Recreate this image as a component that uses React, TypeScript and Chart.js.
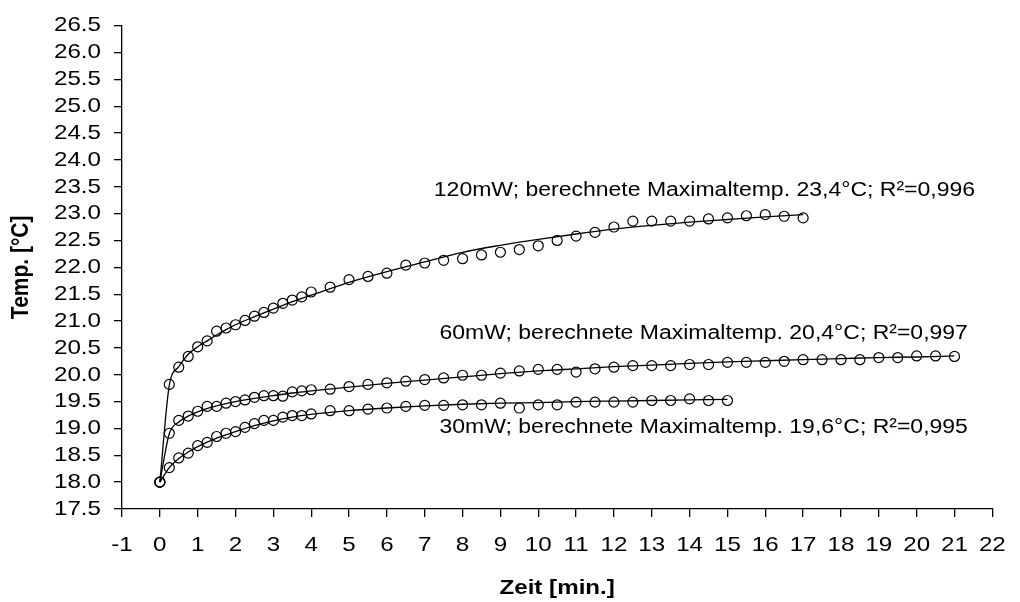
import React, { useEffect, useRef } from 'react';
import { Chart, registerables } from 'chart.js';

Chart.register(...registerables);

// ---- data ----
const times120 = [0, 0.25, 0.5, 0.75, 1, 1.25, 1.5, 1.75, 2, 2.25, 2.5, 2.75, 3, 3.25, 3.5, 3.75, 4, 4.5, 5, 5.5, 6, 6.5, 7, 7.5, 8, 8.5, 9, 9.5, 10, 10.5, 11, 11.5, 12, 12.5, 13, 13.5, 14, 14.5, 15, 15.5, 16, 16.5, 17];
const temp120 = [18.0, 19.82, 20.14, 20.34, 20.52, 20.63, 20.81, 20.87, 20.93, 21.01, 21.09, 21.16, 21.24, 21.33, 21.39, 21.45, 21.54, 21.63, 21.77, 21.83, 21.89, 22.04, 22.08, 22.13, 22.16, 22.23, 22.28, 22.33, 22.40, 22.50, 22.58, 22.65, 22.75, 22.86, 22.86, 22.86, 22.86, 22.90, 22.92, 22.96, 22.98, 22.95, 22.92];

const times60 = [0, 0.25, 0.5, 0.75, 1, 1.25, 1.5, 1.75, 2, 2.25, 2.5, 2.75, 3, 3.25, 3.5, 3.75, 4, 4.5, 5, 5.5, 6, 6.5, 7, 7.5, 8, 8.5, 9, 9.5, 10, 10.5, 11, 11.5, 12, 12.5, 13, 13.5, 14, 14.5, 15, 15.5, 16, 16.5, 17, 17.5, 18, 18.5, 19, 19.5, 20, 20.5, 21];
const temp60 = [18.0, 18.91, 19.15, 19.23, 19.32, 19.41, 19.41, 19.47, 19.50, 19.53, 19.58, 19.61, 19.61, 19.60, 19.68, 19.70, 19.72, 19.73, 19.78, 19.82, 19.85, 19.88, 19.91, 19.94, 19.99, 19.99, 20.03, 20.07, 20.10, 20.10, 20.05, 20.11, 20.14, 20.17, 20.17, 20.17, 20.19, 20.19, 20.23, 20.23, 20.23, 20.25, 20.28, 20.28, 20.28, 20.28, 20.32, 20.32, 20.35, 20.35, 20.34];

const times30 = [0, 0.25, 0.5, 0.75, 1, 1.25, 1.5, 1.75, 2, 2.25, 2.5, 2.75, 3, 3.25, 3.5, 3.75, 4, 4.5, 5, 5.5, 6, 6.5, 7, 7.5, 8, 8.5, 9, 9.5, 10, 10.5, 11, 11.5, 12, 12.5, 13, 13.5, 14, 14.5, 15];
const temp30 = [18.0, 18.27, 18.45, 18.54, 18.68, 18.74, 18.85, 18.91, 18.94, 19.02, 19.09, 19.15, 19.15, 19.21, 19.24, 19.24, 19.27, 19.33, 19.33, 19.36, 19.38, 19.41, 19.43, 19.43, 19.44, 19.44, 19.47, 19.38, 19.44, 19.44, 19.49, 19.49, 19.49, 19.49, 19.52, 19.52, 19.55, 19.52, 19.52];

// fitted curves
const fitTimes120 = [0, 0.25, 0.5, 0.75, 1, 1.25, 1.5, 1.75, 2, 2.5, 3, 3.5, 4, 5, 6, 7, 8, 9, 10, 11, 12, 13, 14, 15, 16, 17];
const fit120 = [18.0, 19.8, 20.15, 20.38, 20.52, 20.63, 20.74, 20.84, 20.93, 21.08, 21.22, 21.36, 21.48, 21.72, 21.92, 22.1, 22.28, 22.41, 22.52, 22.62, 22.71, 22.78, 22.84, 22.89, 22.94, 22.98];

const fitTimes60 = [0, 0.25, 0.5, 0.75, 1, 1.5, 2, 2.5, 3, 3.5, 4, 5, 6, 7, 8, 9, 10, 11, 12, 13, 14, 15, 16, 17, 18, 19, 20, 21];
const fit60 = [18.0, 18.9, 19.12, 19.23, 19.31, 19.42, 19.5, 19.56, 19.61, 19.66, 19.7, 19.77, 19.84, 19.9, 19.96, 20.02, 20.07, 20.11, 20.15, 20.18, 20.21, 20.24, 20.26, 20.28, 20.3, 20.32, 20.33, 20.35];

const fitTimes30 = [0, 0.25, 0.5, 0.75, 1, 1.5, 2, 2.5, 3, 3.5, 4, 5, 6, 7, 8, 9, 10, 11, 12, 13, 14, 15];
const fit30 = [18.0, 18.27, 18.44, 18.56, 18.66, 18.82, 18.94, 19.05, 19.14, 19.21, 19.26, 19.33, 19.38, 19.42, 19.45, 19.47, 19.48, 19.5, 19.51, 19.52, 19.53, 19.54];

const annotationTexts = [
  '120mW; berechnete Maximaltemp. 23,4°C; R²=0,996',
  '60mW; berechnete Maximaltemp. 20,4°C; R²=0,997',
  '30mW; berechnete Maximaltemp. 19,6°C; R²=0,995',
];
// anchor of each annotation in data units [time, temp] (left / baseline)
const annotationAnchors: [number, number][] = [
  [7.24, 23.33],
  [7.39, 20.67],
  [7.39, 18.92],
];

const xMin = -1;
const xMax = 22;
const yMin = 17.5;
const yMax = 26.5;
const xTitle = 'Zeit [min.]';
const yTitle = 'Temp. [°C]';

const FONT = "'Liberation Sans', Arial, Helvetica, sans-serif";
const TEXT_STRETCH = 1.15;

const toPoints = (xs: number[], ys: number[]) => xs.map((x, i) => ({ x, y: ys[i] }));

function patchFillText(ctx: any) {
  if (ctx.__stretched) return;
  const orig = CanvasRenderingContext2D.prototype.fillText;
  ctx.__stretched = true;
  ctx.fillText = function (text: string, x: number, y: number, maxWidth?: number) {
    const m = this.getTransform();
    const p = m.transformPoint(new DOMPoint(x, y));
    this.save();
    this.setTransform(new DOMMatrix().translate(p.x, p.y).scale(TEXT_STRETCH, 1).translate(-p.x, -p.y).multiply(m));
    if (maxWidth === undefined) orig.call(this, text, x, y);
    else orig.call(this, text, x, y, maxWidth);
    this.restore();
  };
}

const annotationPlugin = {
  id: 'curveLabels',
  afterDatasetsDraw(chart: any) {
    const { ctx, scales } = chart;
    ctx.save();
    ctx.font = `20px ${FONT}`;
    ctx.fillStyle = '#000';
    ctx.textAlign = 'left';
    ctx.textBaseline = 'alphabetic';
    annotationTexts.forEach((t, i) => {
      const [ax, ay] = annotationAnchors[i];
      ctx.fillText(t, scales.x.getPixelForValue(ax), scales.y.getPixelForValue(ay));
    });
    ctx.restore();
  },
};

export default function App() {
  const ref = useRef<HTMLCanvasElement>(null);

  useEffect(() => {
    const canvas = ref.current!;
    const ctx = canvas.getContext('2d')!;
    patchFillText(ctx);

    const fitStyle = {
      type: 'line' as const,
      showLine: true,
      borderColor: '#000',
      borderWidth: 1.3,
      pointRadius: 0,
      fill: false,
      cubicInterpolationMode: 'monotone' as const,
    };
    const pointStyle = {
      type: 'scatter' as const,
      showLine: false,
      pointStyle: 'circle',
      pointRadius: 5,
      borderColor: '#000',
      borderWidth: 1.2,
      backgroundColor: 'rgba(0,0,0,0)',
    };

    const chart = new Chart(ctx, {
      type: 'scatter',
      data: {
        datasets: [
          { ...fitStyle, label: 'fit 120mW', data: toPoints(fitTimes120, fit120) },
          { ...fitStyle, label: 'fit 60mW', data: toPoints(fitTimes60, fit60) },
          { ...fitStyle, label: 'fit 30mW', data: toPoints(fitTimes30, fit30) },
          { ...pointStyle, label: '120mW', data: toPoints(times120, temp120) },
          { ...pointStyle, label: '60mW', data: toPoints(times60, temp60) },
          { ...pointStyle, label: '30mW', data: toPoints(times30, temp30) },
        ] as any,
      },
      options: {
        responsive: false,
        animation: false,
        devicePixelRatio: 1,
        layout: { padding: { left: 0, top: 20, right: 24, bottom: 0 } },
        plugins: {
          legend: { display: false },
          tooltip: { enabled: false },
        },
        scales: {
          x: {
            type: 'linear',
            min: xMin,
            max: xMax,
            afterFit: (s: any) => { s.height = 93; },
            ticks: {
              stepSize: 1,
              autoSkip: false,
              maxRotation: 0,
              padding: 16,
              color: '#000',
              font: { family: FONT, size: 21 },
              callback: (v: any) => String(v),
            },
            grid: { drawOnChartArea: false, drawTicks: true, tickLength: 8, color: '#000', lineWidth: 1.3 },
            border: { display: true, color: '#000', width: 1.3 },
            title: {
              display: true,
              text: xTitle,
              color: '#000',
              font: { family: FONT, size: 21, weight: 'bold' },
              padding: { top: 0, bottom: 1 },
            },
          },
          y: {
            type: 'linear',
            min: yMin,
            max: yMax,
            afterFit: (s: any) => { s.width = 122; },
            ticks: {
              stepSize: 0.5,
              autoSkip: false,
              padding: 13,
              color: '#000',
              font: { family: FONT, size: 21 },
              callback: (v: any) => Number(v).toFixed(1),
            },
            grid: { drawOnChartArea: false, drawTicks: true, tickLength: 8, color: '#000', lineWidth: 1.3 },
            border: { display: true, color: '#000', width: 1.3 },
            title: {
              display: true,
              text: yTitle,
              color: '#000',
              font: { family: FONT, size: 21, weight: 'bold' },
              padding: { top: 9, bottom: 0 },
            },
          },
        },
      },
      plugins: [annotationPlugin],
    } as any);

    return () => {
      chart.destroy();
      delete (ctx as any).fillText;
      delete (ctx as any).__stretched;
    };
  }, []);

  return (
    <div style={{ position: 'fixed', left: 0, top: 0, width: 1020, height: 602, background: '#fff' }}>
      <canvas ref={ref} width={1020} height={602} style={{ display: 'block', width: 1020, height: 602 }} />
    </div>
  );
}
